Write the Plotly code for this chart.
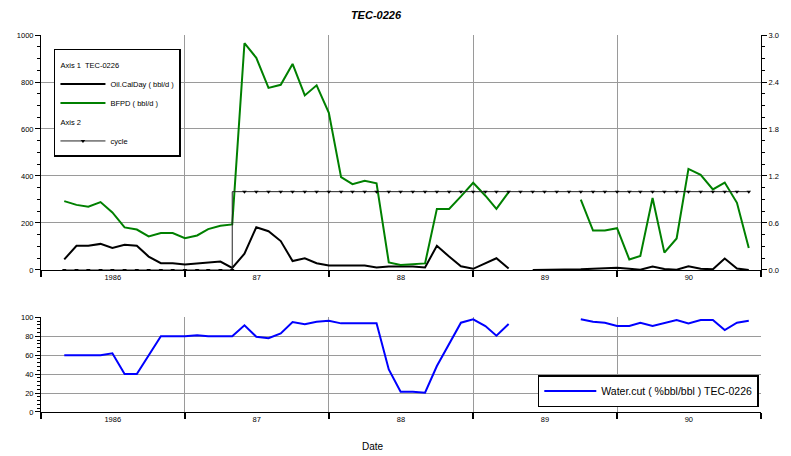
import pandas as pd
import plotly.graph_objects as go

# ---------------- data ----------------
month_index = list(range(2, 60))          # months since 1986-01
start = pd.Timestamp("1986-01-01")
dates = [start + pd.DateOffset(months=m) for m in month_index]

oil_calday = [45, 103, 103, 111, 94, 107, 103, 57, 29, 29, 23, 28, 32, 36, 9,
              69, 182, 165, 123, 38, 50, 29, 19, 19, 19, 19, 11, 15, 15, 15, 11,
              103, 57, 16, 5, 29, 50, 6,
              None,
              0, 0, 0, 1, 3, 5, 6, 10, 5, 1, 15, 4, 1, 16, 5, 3, 49, 6, 0]

bfpd = [293, 277, 269, 289, 245, 181, 172, 143, 157, 157, 135, 147, 174, 188, 194,
        965, 903, 775, 788, 877, 743, 786, 669, 395, 365, 380, 369, 32, 21, 23, 28,
        260, 260, 313, 371, 316, 260, 331,
        None, None, None, None, None,
        299, 168, 168, 178, 45, 60, 306, 74, 134, 430, 405, 343, 372, 286, 94]

cycle = [0, 0, 0, 0, 0, 0, 0, 0, 0, 0, 0, 0, 0, 0, 0,
         1, 1, 1, 1, 1, 1, 1, 1, 1, 1, 1, 1, 1, 1, 1, 1, 1, 1, 1, 1, 1, 1, 1,
         1, 1, 1, 1, 1, 1, 1, 1, 1, 1, 1, 1, 1, 1, 1, 1, 1, 1, 1, 1]

water_cut = [60, 60, 60, 60, 62, 40, 40, 60, 80, 80, 80, 81, 80, 80, 80,
             91.5, 79.5, 78, 83, 95, 92.6, 95.4, 96.4, 93.6, 93.6, 93.6, 93.6,
             45, 21.5, 21.5, 20.4, 48.6, 72.5, 94.3, 97.9, 90.8, 80.6, 92.9,
             None, None, None, None, None,
             98, 95.4, 94.3, 90.8, 90.8, 94.3, 90.8, 94.3, 97.2, 93.6, 97.2,
             97.2, 86.6, 94.3, 96.4]

year_starts = ["1986-01-01", "1987-01-01", "1988-01-01", "1989-01-01",
               "1990-01-01", "1991-01-01"]
label_dates = ["1986-07-02", "1987-07-02", "1988-07-02", "1989-07-02", "1990-07-02"]
year_labels = ["1986", "87", "88", "89", "90"]
x_range = ["1986-01-01", "1991-01-01"]

# ---------------- figure ----------------
FONT = "Liberation Sans"
GRID = "#9a9a9a"

fig = go.Figure()
fig.add_trace(go.Scatter(
    x=dates, y=oil_calday, name="Oil.CalDay ( bbl/d )", mode="lines",
    line=dict(color="black", width=2), xaxis="x", yaxis="y",
    legend="legend", legendgroup="a1", legendgrouptitle_text="Axis 1  TEC-0226"))
fig.add_trace(go.Scatter(
    x=dates, y=bfpd, name="BFPD ( bbl/d )", mode="lines",
    line=dict(color="#008000", width=2), xaxis="x", yaxis="y",
    legend="legend", legendgroup="a1"))
fig.add_trace(go.Scatter(
    x=dates, y=cycle, name="cycle", mode="lines+markers",
    line=dict(color="#222222", width=1, shape="vh"),
    marker=dict(symbol="triangle-down", size=4, color="black"),
    xaxis="x", yaxis="y2",
    legend="legend", legendgroup="a2", legendgrouptitle_text="Axis 2"))
fig.add_trace(go.Scatter(
    x=dates, y=water_cut, name="Water.cut ( %bbl/bbl ) TEC-0226", mode="lines",
    line=dict(color="#0000FF", width=2), xaxis="x2", yaxis="y3",
    legend="legend2"))

tickfont = dict(family=FONT, size=7.5, color="black")


def xaxis_common(anchor):
    return dict(
        type="date", range=x_range, anchor=anchor, domain=[0, 1],
        tickmode="array", tickvals=label_dates, ticktext=year_labels, ticks="",
        showgrid=False, zeroline=False, showline=True, linecolor="black",
        linewidth=1, tickfont=tickfont,
        minor=dict(tickmode="array", tickvals=year_starts, ticks="outside",
                   ticklen=6, tickwidth=1.5, tickcolor="black",
                   showgrid=True, gridcolor=GRID, gridwidth=1))


def month_overlay(over, anchor):
    return dict(
        type="date", range=x_range, overlaying=over, anchor=anchor,
        tickmode="linear", tick0="1986-01-01", dtick="M1", ticks="outside",
        ticklen=3, tickcolor="black", showticklabels=False, showgrid=False,
        zeroline=False, showline=False)


def yaxis_common(**kw):
    d = dict(tickmode="linear", ticks="outside", ticklen=5, tickcolor="black",
             showline=True, linecolor="black", linewidth=1, zeroline=False,
             tickfont=tickfont, gridcolor=GRID, gridwidth=1)
    d.update(kw)
    return d


fig.update_layout(
    width=791, height=456,
    margin=dict(l=41, r=22, t=35, b=44),
    paper_bgcolor="white", plot_bgcolor="white",
    font=dict(family=FONT, color="black", size=8),
    title=dict(text="<b><i>TEC-0226</i></b>", x=0.4753, xanchor="center",
               y=0.967, yanchor="middle",
               font=dict(family=FONT, size=11, color="black")),
    xaxis=xaxis_common("y"),
    xaxis2=xaxis_common("y3"),
    xaxis3=month_overlay("x", "y"),
    xaxis4=month_overlay("x2", "y3"),
    yaxis=yaxis_common(domain=[0.3767, 1], anchor="x", range=[0, 1000],
                       tick0=0, dtick=200,
                       minor=dict(dtick=50, ticks="outside", ticklen=3,
                                  tickcolor="black", showgrid=False)),
    yaxis2=yaxis_common(overlaying="y", side="right", anchor="x",
                        range=[0, 3], tick0=0, dtick=0.6, tickformat=".1f",
                        showgrid=False,
                        minor=dict(dtick=0.15, ticks="outside", ticklen=3,
                                   tickcolor="black", showgrid=False)),
    yaxis3=yaxis_common(domain=[0, 0.2512], anchor="x2", range=[0, 100],
                        tick0=0, dtick=20,
                        minor=dict(dtick=4, ticks="outside", ticklen=3,
                                   tickcolor="black", showgrid=False)),
    legend=dict(x=0.018, y=0.963, xanchor="left", yanchor="top",
                bgcolor="white", bordercolor="black", borderwidth=1.5,
                font=dict(family=FONT, size=7.5, color="black"),
                grouptitlefont=dict(family=FONT, size=7.5, color="black"),
                tracegroupgap=0, itemwidth=45),
    legend2=dict(x=0.69, y=0.013, xanchor="left", yanchor="bottom",
                 bgcolor="white", bordercolor="black", borderwidth=1.5,
                 font=dict(family=FONT, size=10.5, color="black"),
                 itemwidth=52),
    annotations=[dict(text="Date", xref="paper", yref="paper", x=0.4615,
                      y=-0.0928, xanchor="center", yanchor="middle",
                      showarrow=False,
                      font=dict(family=FONT, size=10, color="black"))],
)

fig.write_html("out.html")
